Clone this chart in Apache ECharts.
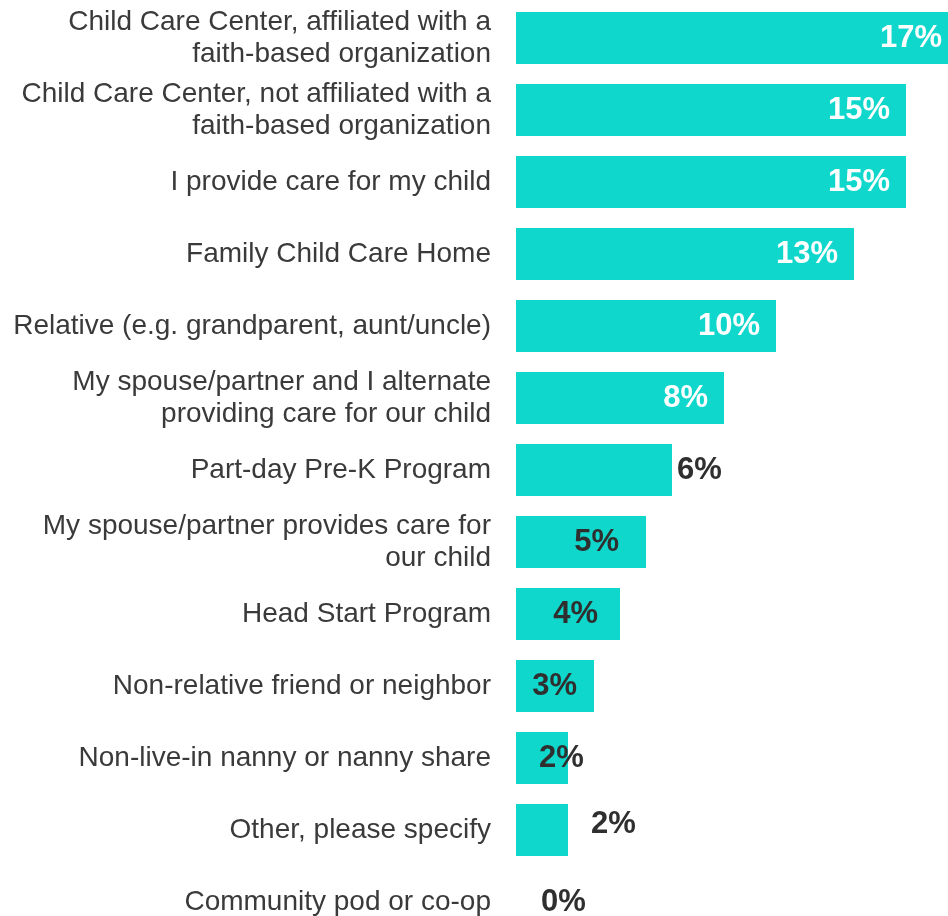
<!DOCTYPE html>
<html>
<head>
<meta charset="utf-8">
<script src="https://cdn.jsdelivr.net/npm/echarts@6/dist/echarts.min.js"></script>
<style>
  html, body { margin: 0; padding: 0; background: #ffffff; }
  #chart { width: 948px; height: 916px; }
</style>
</head>
<body>
<div id="chart"></div>
<script>
const categories = [
  "Child Care Center, affiliated with a\nfaith-based organization",
  "Child Care Center, not affiliated with a\nfaith-based organization",
  "I provide care for my child",
  "Family Child Care Home",
  "Relative (e.g. grandparent, aunt/uncle)",
  "My spouse/partner and I alternate\nproviding care for our child",
  "Part-day Pre-K Program",
  "My spouse/partner provides care for\nour child",
  "Head Start Program",
  "Non-relative friend or neighbor",
  "Non-live-in nanny or nanny share",
  "Other, please specify",
  "Community pod or co-op"
];
const values = [17, 15, 15, 13, 10, 8, 6, 5, 4, 3, 2, 2, 0];

const DARK = '#2f2f2f';
const BAR = '#0fd7cc';

// label placement styling per row (visual style only)
function labelStyle(i) {
  const base = { show: true, formatter: '{c}%', fontSize: 31, fontWeight: 'bold', fontFamily: 'Arial, "Liberation Sans", sans-serif' };
  const v = values[i];
  if (v >= 8) return Object.assign(base, { position: 'insideRight', distance: 16, color: '#ffffff' });
  if (i === 6) return Object.assign(base, { position: 'right', distance: 5, color: DARK });
  if (i === 7) return Object.assign(base, { position: 'insideRight', distance: 27, color: DARK });
  if (i === 8) return Object.assign(base, { position: 'insideRight', distance: 22, color: DARK });
  if (i === 9) return Object.assign(base, { position: 'insideRight', distance: 17, color: DARK });
  if (i === 10) return Object.assign(base, { position: 'insideLeft', distance: 23, color: DARK });
  if (i === 11) return Object.assign(base, { position: 'right', distance: 23, offset: [0, -6], color: DARK });
  return Object.assign(base, { position: 'right', distance: 25, color: DARK });
}

const chart = echarts.init(document.getElementById('chart'), null, { renderer: 'canvas' });
chart.setOption({
  animation: false,
  backgroundColor: '#ffffff',
  grid: { left: 516, top: 2, width: 520, height: 936, containLabel: false, outerBoundsMode: 'none' },
  xAxis: { type: 'value', min: 0, max: 20, show: false },
  yAxis: {
    type: 'category',
    data: categories,
    inverse: true,
    axisLine: { show: false },
    axisTick: { show: false },
    splitLine: { show: false },
    axisLabel: {
      margin: 25,
      fontSize: 28,
      lineHeight: 32,
      color: '#3a3a3a',
      align: 'right',
      fontFamily: 'Arial, "Liberation Sans", sans-serif'
    }
  },
  series: [{
    type: 'bar',
    barCategoryGap: '27.8%',
    itemStyle: { color: BAR },
    data: values.map((v, i) => ({ value: v, label: labelStyle(i) }))
  }]
});
</script>
</body>
</html>
